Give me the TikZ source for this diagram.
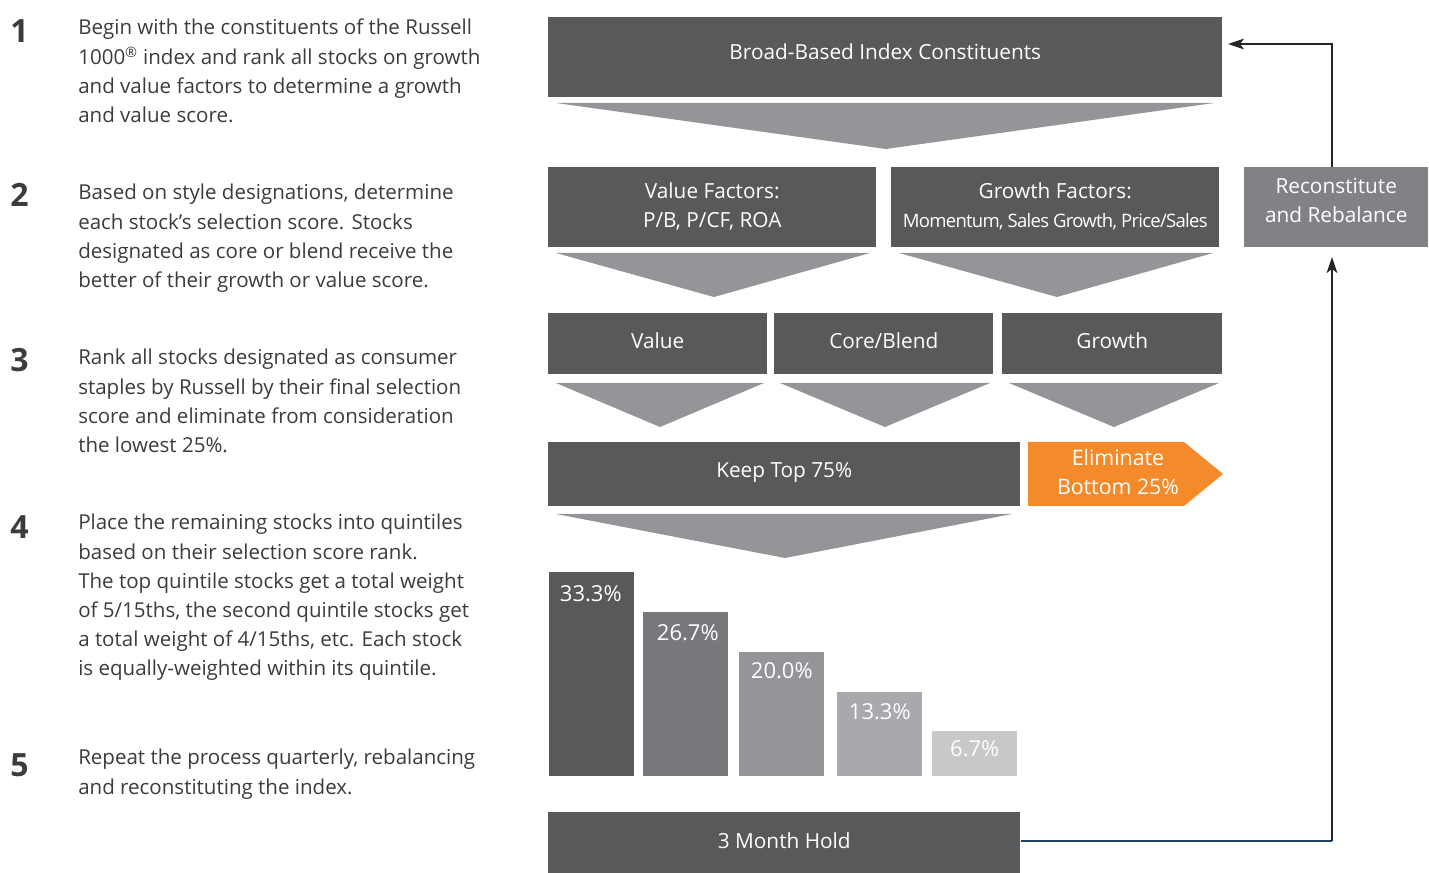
\documentclass[tikz,border=0pt]{standalone}
\usepackage{fontspec}
\setmainfont{Open Sans}
\usetikzlibrary{arrows.meta,calc}
\definecolor{dk}{HTML}{58595B}
\definecolor{md}{HTML}{939598}
\definecolor{rc}{HTML}{808285}
\definecolor{b2}{HTML}{77787B}
\definecolor{b4}{HTML}{A7A9AC}
\definecolor{b5}{HTML}{C7C8CA}
\definecolor{org}{HTML}{F58A2A}
\definecolor{txt}{HTML}{3C3C3C}
\definecolor{nav}{HTML}{1F3F66}
\newcommand\twoln[2]{\begin{tabular}{@{}c@{}}#1\\#2\end{tabular}}
\newcommand\liftby[2]{\raisebox{0pt}[\height][\dimexpr\depth+#1\relax]{#2}}
\begin{document}
\begin{tikzpicture}[x=0.75pt,y=-0.75pt,
  box/.style={fill=dk, text=white, inner sep=0pt, anchor=north west, align=center,
    font=\fontsize{15.6}{21.75}\selectfont},
  bar/.style={inner sep=0pt, anchor=south west, minimum width=85*0.75pt},
  pct/.style={text=white, font=\fontsize{16.5}{19}\selectfont, anchor=north},
  tri/.style={fill=md},
  para/.style={anchor=north west, inner sep=0pt, align=left, text=txt,
    font=\fontsize{15.4}{21.9}\selectfont},
  num/.style={anchor=north west, inner sep=0pt, text=txt, font=\fontsize{24}{26}\selectfont\bfseries},
  conn/.style={line width=1.6pt, draw=black!85},
  tip/.style={-{Stealth[length=12pt,width=8pt,inset=3pt]}}
]
\useasboundingbox (0,0) rectangle (1429,873);

% left column
\node[num] (n1) at (10,19) {1};
\node[para] (s1) at (78,19) {Begin with the constituents of the Russell\\1000\textsuperscript{\textregistered} index and rank all stocks on growth\\and value factors to determine a growth\\and value score.};
\node[num] (n2) at (10,183) {2};
\node[para] (s2) at (78,184) {Based on style designations, determine\\each stock’s selection score. Stocks\\designated as core or blend receive the\\better of their growth or value score.};
\node[num] (n3) at (10,348) {3};
\node[para] (s3) at (78,349) {Rank all stocks designated as consumer\\staples by Russell by their final selection\\score and eliminate from consideration\\the lowest 25\%.};
\node[num] (n4) at (10,515) {4};
\node[para] (s4) at (78,514) {Place the remaining stocks into quintiles\\based on their selection score rank.\\The top quintile stocks get a total weight\\of 5/15ths, the second quintile stocks get\\a total weight of 4/15ths, etc. Each stock\\is equally-weighted within its quintile.};
\node[num] (n5) at (10,753) {5};
\node[para] (s5) at (78,749) {Repeat the process quarterly, rebalancing\\and reconstituting the index.};

% flow
\node[box, minimum width=674*0.75pt, minimum height=80*0.75pt] (broad) at (548,17) {\raisebox{8.5pt}{Broad-Based Index Constituents}};
\fill[tri] (556,103) -- (1214,103) -- (886,149) -- cycle;

\node[box, minimum width=328*0.75pt, minimum height=80*0.75pt] (vf) at (548,167) {\twoln{Value Factors:}{P/B, P/CF, ROA}};
\node[box, minimum width=328*0.75pt, minimum height=80*0.75pt] (gf) at (891,167) {\twoln{Growth Factors:}{{\fontsize{13.9}{16}\selectfont\addfontfeature{LetterSpace=-4}Momentum, Sales Growth, Price/Sales}}};
\fill[tri] (556,253) -- (870,253) -- (714,297) -- cycle;
\fill[tri] (899,253) -- (1213,253) -- (1057,297) -- cycle;

\node[box, minimum width=219*0.75pt, minimum height=61*0.75pt] (val) at (548,313) {\raisebox{5pt}{Value}};
\node[box, minimum width=219*0.75pt, minimum height=61*0.75pt] (core) at (774,313) {\raisebox{5pt}{Core/Blend}};
\node[box, minimum width=220*0.75pt, minimum height=61*0.75pt] (gro) at (1002,313) {\raisebox{5pt}{Growth}};
\fill[tri] (556,383) -- (764,383) -- (660,427) -- cycle;
\fill[tri] (780,383) -- (990,383) -- (885,427) -- cycle;
\fill[tri] (1009,383) -- (1219,383) -- (1114,427) -- cycle;

\node[box, minimum width=472*0.75pt, minimum height=64*0.75pt] (keep) at (548,442) {\raisebox{7pt}{Keep Top 75\%}};
\fill[org] (1028,442) -- (1184,442) -- (1223,474) -- (1184,506) -- (1028,506) -- cycle;
\node[text=white, align=center, font=\fontsize{16}{21.75}\selectfont, inner sep=0pt] (elim) at (1118,472) {Eliminate\\Bottom 25\%};
\fill[tri] (556,514) -- (1012,514) -- (785,558) -- cycle;

% bars
\node[bar, fill=dk, minimum height=204*0.75pt] (q1) at (549,776) {};
\node[bar, fill=b2, minimum height=164*0.75pt] (q2) at (643,776) {};
\node[bar, fill=md, minimum height=124*0.75pt] (q3) at (739,776) {};
\node[bar, fill=b4, minimum height=84*0.75pt] (q4) at (837,776) {};
\node[bar, fill=b5, minimum height=45*0.75pt] (q5) at (932,776) {};
\node[pct] (p1) at ($(q1.north)+(-1,9)$) {33.3\%};
\node[pct] (p2) at ($(q2.north)+(2,8)$) {26.7\%};
\node[pct] (p3) at ($(q3.north)+(0,6)$) {20.0\%};
\node[pct] (p4) at ($(q4.north)+(0,7)$) {13.3\%};
\node[pct] (p5) at ($(q5.north)+(0,5)$) {6.7\%};

\node[box, minimum width=472*0.75pt, minimum height=61*0.75pt] (hold) at (548,812) {\raisebox{3.5pt}{3 Month Hold}};

\node[box, fill=rc, minimum width=184*0.75pt, minimum height=80*0.75pt] (recon) at (1244,167) {\liftby{7.5pt}{\twoln{Reconstitute}{and Rebalance}}};

% connectors
\coordinate (c1) at (1332,841);
\coordinate (rb) at (1332,247);
\coordinate (rt) at (1332,167);
\coordinate (bt) at (1222,44);
\draw[line width=1.6pt, nav] (hold.east |- c1) -- (c1);
\draw[conn, tip, shorten >=7.5pt] (c1) -- (rb);
\draw[conn, tip, shorten >=4.5pt] (rt) |- (bt);
\end{tikzpicture}
\end{document}
